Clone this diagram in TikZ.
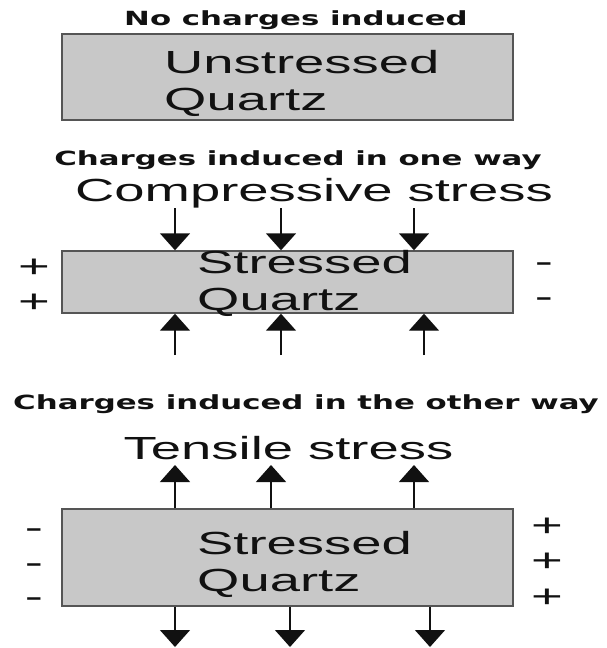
\documentclass[tikz,border=0pt]{standalone}
\usepackage{fontspec}
\setmainfont{Liberation Sans}[FakeStretch=1.7]
\newfontfamily\headfont{DejaVu Sans}[FakeStretch=1.58]
\usetikzlibrary{arrows.meta,positioning}
\definecolor{ink}{HTML}{111111}
\definecolor{quartz}{HTML}{C8C8C8}
\definecolor{edge}{HTML}{555555}
\tikzset{
  crystal/.style={draw=edge, fill=quartz, line width=1.4pt, inner sep=0pt,
                  minimum width=451pt},
  lbl/.style={font=\fontsize{32}{37}\selectfont, align=left, anchor=west,
              text=ink, inner sep=0pt},
  hdr/.style={font=\headfont\bfseries\fontsize{19.5}{21}\selectfont, text=ink,
              inner sep=0pt},
  stresslbl/.style={font=\fontsize{32}{37}\selectfont, text=ink, inner sep=0pt},
  sgn/.style={font=\fontsize{32}{32}\selectfont, text=ink, inner sep=0pt},
  force/.style={-{Triangle[width=30pt,length=17pt]}, line width=1.4pt, draw=ink},
}
\begin{document}
\begin{tikzpicture}[x=1pt,y=-1pt]
    \useasboundingbox (0,0) rectangle (606,648);
    \node[hdr] (h1) at (296,20) {No charges induced};
    \node[crystal, minimum height=86pt] (q1) at (287.5,77) {};
    \node[lbl] (l1) at (164,83) {Unstressed\\Quartz};
    \node[hdr] (h2) at (298,160) {Charges induced in one way};
    \node[stresslbl] (s2) at (314,193) {Compressive stress};
    \node[crystal, minimum height=62pt] (q2) at (287.5,282) {};
    \node[lbl] (l2) at (197,283) {Stressed\\Quartz};
    \foreach \x [count=\k] in {175,281,414} {
      \coordinate (ta\k) at (\x,208);
      \draw[force] (ta\k) -- (ta\k |- q2.north);
    }
    \foreach \x [count=\k] in {175,281,424} {
      \coordinate (ba\k) at (\x,355);
      \draw[force] (ba\k) -- (ba\k |- q2.south);
    }
    \foreach \y [count=\k] in {268,303} {
      \node[sgn] (pa\k) at (34,\y) {+};
      \node[sgn] (ma\k) at (544,\y) {-};
    }
    \node[hdr] (h3) at (306,404) {Charges induced in the other way};
    \node[stresslbl] (s3) at (288.5,448) {Tensile stress};
    \node[crystal, minimum height=97pt] (q3) at (287.5,557.5) {};
    \node[lbl] (l3) at (197,564) {Stressed\\Quartz};
    \foreach \x [count=\k] in {175,271,414} {
      \coordinate (tb\k) at (\x,465);
      \draw[force] (tb\k |- q3.north) -- (tb\k);
    }
    \foreach \x [count=\k] in {175,290,430} {
      \coordinate (bb\k) at (\x,647);
      \draw[force] (bb\k |- q3.south) -- (bb\k);
    }
    \foreach \y [count=\k] in {534,569,603} {
      \node[sgn] (mb\k) at (34,\y) {-};
    }
    \foreach \y [count=\k] in {527,562,598} {
      \node[sgn] (pb\k) at (547,\y) {+};
    }
  \end{tikzpicture}
\end{document}
